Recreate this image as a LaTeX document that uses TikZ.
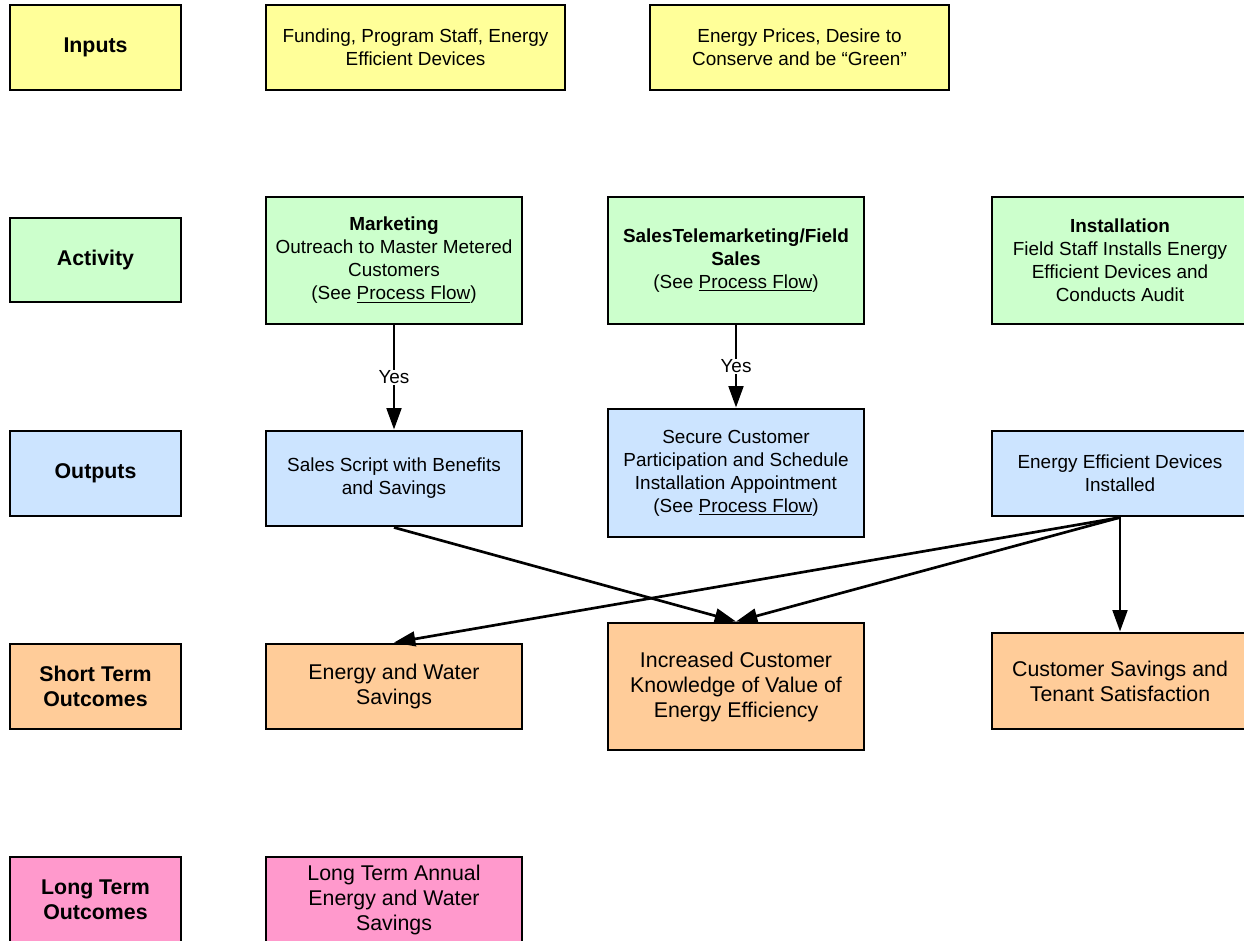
\documentclass[tikz,border=0pt]{standalone}
\usepackage{fontspec}
\setmainfont{Liberation Sans}
\usetikzlibrary{arrows.meta}
\definecolor{cyel}{HTML}{FFFF99}
\definecolor{cgrn}{HTML}{CCFFCC}
\definecolor{cblu}{HTML}{CCE4FF}
\definecolor{corg}{HTML}{FFCC99}
\definecolor{cpnk}{HTML}{FF99CC}
\newcommand\bx[8][]{\node[box,fill=#7,minimum width={(#5-#3)*0.75pt},minimum height={(#6-#4)*0.75pt},#1] (#2) at ({(#3+#5)/2},{(#4+#6)/2}) {#8};}
\newcommand\pf{(See \underline{Process Flow})}
\tikzset{
  box/.style={draw=black,line width=2.2pt,align=center,inner sep=2pt,font=\fontsize{14.2}{17.25}\selectfont},
  lbl/.style={font=\fontsize{16}{18.75}\selectfont\bfseries},
  big/.style={font=\fontsize{16}{18.75}\selectfont},
  arr/.style={line width=2pt,-{Triangle[length=16pt,width=11pt]}},
  yes/.style={fill=white,inner sep=1pt,font=\fontsize{14.2}{17}\selectfont}
}
\begin{document}
\begin{tikzpicture}[x=0.75pt,y=-0.75pt]
\useasboundingbox (0,0) rectangle (1244,941);
\clip (0,0) rectangle (1244,941);
% row labels
\bx[lbl]{inL}{10}{5}{181}{90}{cyel}{Inputs}
\bx[lbl]{acL}{10}{218}{181}{302}{cgrn}{Activity}
\bx[lbl]{ouL}{10}{431}{181}{516}{cblu}{Outputs}
\bx[lbl]{stL}{10}{644}{181}{729}{corg}{Short Term\\Outcomes}
\bx[lbl]{ltL}{10}{857}{181}{942}{cpnk}{Long Term\\Outcomes}
% inputs
\bx{fund}{266}{5}{565}{90}{cyel}{Funding, Program Staff, Energy\\Efficient Devices}
\bx{price}{650}{5}{949}{90}{cyel}{Energy Prices, Desire to\\Conserve and be “Green”}
% activities
\bx{mkt}{266}{197}{522}{324}{cgrn}{\textbf{Marketing}\\Outreach to Master Metered\\Customers\\\pf}
\bx{sales}{608}{197}{864}{324}{cgrn}{\textbf{SalesTelemarketing/Field}\\\textbf{Sales}\\\pf}
\bx{inst}{992}{197}{1248}{324}{cgrn}{\textbf{Installation}\\Field Staff Installs Energy\\Efficient Devices and\\Conducts Audit}
% outputs
\bx{script}{266}{431}{522}{526}{cblu}{Sales Script with Benefits\\and Savings}
\bx{secure}{608}{409}{864}{537}{cblu}{Secure Customer\\Participation and Schedule\\Installation Appointment\\\pf}
\bx{eed}{992}{431}{1248}{516}{cblu}{Energy Efficient Devices\\Installed}
% short term
\bx[big]{ews}{266}{644}{522}{729}{corg}{Energy and Water\\Savings}
\bx[big]{know}{608}{623}{864}{750}{corg}{Increased Customer\\Knowledge of Value of\\Energy Efficiency}
\bx[big]{sav}{992}{633}{1248}{729}{corg}{Customer Savings and\\Tenant Satisfaction}
% long term
\bx[big]{lt}{266}{857}{522}{942}{cpnk}{Long Term Annual\\Energy and Water\\Savings}
% connectors
\draw[arr] (mkt.south) -- node[yes]{Yes} (script.north);
\draw[arr] (sales.south) -- node[yes]{Yes} (secure.north);
\draw[arr] (script.south) -- (know.north);
\draw[arr] (eed.south) -- (ews.north);
\draw[arr] (eed.south) -- (know.north);
\draw[arr] (eed.south) -- (sav.north);
\end{tikzpicture}
\end{document}
